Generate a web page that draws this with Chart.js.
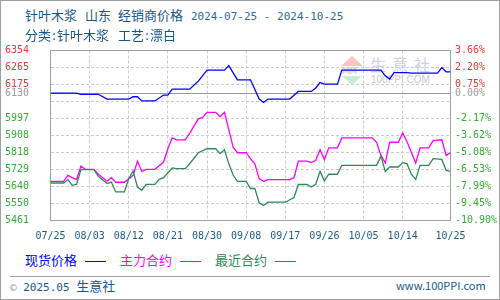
<!DOCTYPE html>
<html><head><meta charset="utf-8">
<script src="https://cdn.jsdelivr.net/npm/chart.js@4.4.0/dist/chart.umd.min.js"></script>
<style>
html,body{margin:0;padding:0;background:#fff;}
#wrap{position:relative;width:500px;height:300px;overflow:hidden;background:#fff;}
#frame{position:absolute;left:0;top:0;width:500px;height:300px;box-sizing:border-box;border:1px solid #a0a0a0;z-index:5;pointer-events:none;}
.cjk{font-family:"Noto Sans CJK SC",sans-serif;font-size:13px;}
.mono{font-family:"DejaVu Sans Mono",monospace;font-size:11px;}
.row{position:absolute;white-space:pre;line-height:13px;font-family:"Noto Sans CJK SC",sans-serif;font-size:13px;z-index:3;}
.ib{display:inline-block;}
.c{text-align:center;}
#chart{position:absolute;left:0;top:40px;z-index:2;}
.wm{position:absolute;z-index:1;white-space:pre;}
.lg{position:absolute;height:0;border-top:1px solid;top:261px;z-index:3;}
</style></head>
<body>
<div id="wrap">
  <!-- watermark -->
  <div class="wm" style="left:341px;top:56px;width:0;height:0;border-left:11px solid transparent;border-right:11px solid transparent;border-bottom:10px solid #f6c4c4;"></div>
  <div class="wm" style="left:342px;top:67px;font:bold 8px 'DejaVu Sans';color:#d6d6d6;letter-spacing:-1px;">MM</div>
  <div class="wm" style="left:342px;top:76px;width:0;height:0;border-left:10px solid transparent;border-right:10px solid transparent;border-top:9px solid #c9ecd2;"></div>
  <div class="wm cjk" style="left:370px;top:55px;font-size:16px;line-height:18px;letter-spacing:6px;color:#c9d4e4;">生意社</div>
  <div class="wm" style="left:371px;top:75px;font:10px 'Liberation Sans';line-height:10px;color:#c8c8c8;">100PPI.COM</div>

  <div class="row" style="left:25px;top:8px;color:#16588c;"><span class="ib" style="width:60px">针叶木浆</span><span class="ib" style="width:33px">山东</span><span class="ib" style="width:73px">经销商价格</span><span class="ib mono" style="color:#2f6a9c">2024-07-25 - 2024-10-25</span></div>
  <div class="row" style="left:25px;top:28px;color:#16588c;"><span class="ib" style="width:26px">分类</span><span class="ib c" style="width:6px">:</span><span class="ib" style="width:61px">针叶木浆</span><span class="ib" style="width:26px">工艺</span><span class="ib c" style="width:6px">:</span><span class="ib">漂白</span></div>

  <canvas id="chart" width="500" height="210"></canvas>

  <div class="row" style="left:25px;top:253px;color:#0000ff;">现货价格</div>
  <div class="lg" style="left:85px;width:21px;border-color:#0000ff;"></div>
  <div class="row" style="left:120px;top:253px;color:#ff00ff;">主力合约</div>
  <div class="lg" style="left:180px;width:21px;border-color:#ff00ff;"></div>
  <div class="row" style="left:215px;top:253px;color:#2e8b57;">最近合约</div>
  <div class="lg" style="left:275px;width:21px;border-color:#2e8b57;"></div>

  <div style="position:absolute;left:10px;top:276px;width:480px;height:1px;background:#a0a0a0;"></div>
  <div class="row" style="left:10px;top:279px;color:#16588c;"><span class="mono" style="color:#8aa4bd">©</span><span class="mono"> 2025.05 </span>生意社</div>
  <div class="row mono" style="left:396px;top:279px;color:#16588c;font-size:11px;">www.100PPI.com</div>

  <div id="frame"></div>
</div>
<script>
// ---- data ----
const xTickLabels = ['07/25','08/03','08/12','08/21','08/30','09/08','09/17','09/26','10/05','10/14','10/25'];
const yTickValues = [6354, 6264.7, 6175.4, 6130, 6086.1, 5996.8, 5907.5, 5818.2, 5728.9, 5639.6, 5550.3, 5461];
const yLeftLabels = ['6354','6265','6175','6130','','5997','5908','5818','5729','5640','5550','5461'];
const yRightLabels = ['3.66%','2.20%','0.75%','0.00%','','-2.17%','-3.62%','-5.08%','-6.53%','-7.99%','-9.45%','-10.90%'];
const BASE = 6130;

const spotDates = ['07-25','07-31','08-01','08-05','08-07','08-12','08-13','08-14','08-15','08-18','08-20','08-21','08-22','08-26','08-28','08-30','09-03','09-04','09-06','09-09','09-11','09-12','09-13','09-18','09-20','09-23','09-24','09-25','09-26','09-29','09-30','10-09','10-10','10-11','10-12','10-15','10-16','10-22','10-23','10-24','10-25'];
const spotValues = [6130,6130,6124,6124,6099,6099,6111,6111,6089,6089,6120,6120,6151,6151,6193,6251,6251,6275,6200,6200,6099,6081,6099,6099,6139,6139,6157,6186,6177,6177,6251,6251,6221,6204,6238,6238,6235,6235,6264,6242,6242];

const mainDates = ['07-25','07-28','07-29','07-30','07-31','08-01','08-02','08-04','08-05','08-07','08-08','08-09','08-11','08-13','08-14','08-15','08-16','08-18','08-20','08-21','08-22','08-23','08-25','08-26','08-28','08-29','08-30','09-01','09-02','09-03','09-04','09-05','09-06','09-08','09-09','09-10','09-11','09-12','09-13','09-18','09-19','09-20','09-22','09-23','09-24','09-25','09-26','09-27','09-29','09-30','10-07','10-08','10-09','10-10','10-11','10-13','10-14','10-15','10-17','10-18','10-20','10-21','10-23','10-24','10-25'];
const mainValues = [5667,5667,5698,5686,5676,5747,5730,5730,5704,5667,5686,5662,5662,5698,5773,5719,5730,5730,5768,5838,5895,5885,5885,5919,5995,6003,6029,6029,6006,6029,5940,5846,5817,5817,5786,5759,5681,5667,5676,5676,5686,5773,5773,5765,5777,5833,5780,5843,5843,5895,5895,5872,5803,5763,5872,5872,5921,5875,5763,5843,5843,5881,5885,5803,5817];

const nearDates = ['07-25','07-28','07-29','07-30','07-31','08-01','08-04','08-05','08-07','08-08','08-09','08-11','08-12','08-13','08-14','08-15','08-16','08-18','08-19','08-20','08-22','08-23','08-25','08-26','08-28','08-30','09-01','09-02','09-03','09-04','09-05','09-06','09-08','09-09','09-10','09-11','09-12','09-13','09-17','09-19','09-20','09-22','09-23','09-24','09-25','09-26','09-27','09-29','09-30','10-08','10-09','10-10','10-11','10-13','10-14','10-15','10-16','10-17','10-18','10-20','10-21','10-23','10-24','10-25'];
const nearValues = [5658,5658,5676,5646,5651,5728,5728,5693,5655,5663,5611,5611,5681,5721,5637,5620,5651,5651,5677,5686,5737,5733,5733,5759,5817,5838,5838,5812,5833,5760,5700,5667,5667,5629,5629,5554,5540,5557,5557,5582,5650,5650,5637,5651,5719,5669,5704,5704,5751,5751,5799,5719,5742,5742,5765,5759,5704,5677,5751,5751,5786,5782,5724,5719];

// ---- helpers ----
const START = Date.UTC(2024, 6, 25);
function dayOf(s) {
  const p = s.split(/[-\/]/).map(Number);
  return Math.round((Date.UTC(2024, p[0] - 1, p[1]) - START) / 86400000);
}
const xTickDays = xTickLabels.map(dayOf);
function pts(dates, vals) { return dates.map((d, i) => ({ x: dayOf(d), y: vals[i] })); }
function tickColor(v) { return Math.abs(v - BASE) < 0.01 ? '#9a9a9a' : (v > BASE ? '#e63a3a' : '#35ad35'); }
const isBase = c => c.tick && Math.abs(c.tick.value - BASE) < 0.01;

const framePlugin = {
  id: 'frame',
  beforeDatasetsDraw(chart) {
    const a = chart.chartArea, ctx = chart.ctx;
    ctx.save();
    ctx.strokeStyle = '#a0a0a0';
    ctx.lineWidth = 1;
    ctx.strokeRect(a.left, a.top, a.right - a.left, a.bottom - a.top);
    ctx.restore();
  }
};

const axisFont = { family: 'DejaVu Sans Mono', size: 10 };

new Chart(document.getElementById('chart'), {
  type: 'line',
  data: {
    datasets: [
      { label: '现货价格', data: pts(spotDates, spotValues), borderColor: '#0000ff', borderWidth: 1.3, pointRadius: 0, tension: 0, order: 0 },
      { label: '最近合约', data: pts(nearDates, nearValues), borderColor: '#2e8b57', borderWidth: 1.3, pointRadius: 0, tension: 0, order: 1 },
      { label: '主力合约', data: pts(mainDates, mainValues), borderColor: '#ff00ff', borderWidth: 1.3, pointRadius: 0, tension: 0, order: 2 }
    ]
  },
  options: {
    responsive: false,
    animation: false,
    devicePixelRatio: 1,
    layout: { padding: { left: 5, right: 0, top: 9.5, bottom: 0 } },
    plugins: { legend: { display: false }, tooltip: { enabled: false } },
    scales: {
      x: {
        type: 'linear', min: 0, max: 92,
        afterBuildTicks: s => { s.ticks = xTickDays.map(v => ({ value: v })); },
        afterFit: s => { s.height = 29.5; },
        ticks: { autoSkip: false, maxRotation: 0, padding: 10, font: axisFont, color: '#1b5e8f',
                 callback: (v, i) => xTickLabels[i] },
        grid: { color: '#cccccc', drawTicks: false, lineWidth: 1 },
        border: { display: false, dash: [3, 2] }
      },
      y: {
        position: 'left', min: 5461, max: 6354,
        afterBuildTicks: s => { s.ticks = yTickValues.map(v => ({ value: v })); },
        afterFit: s => { s.width = 45.5; },
        ticks: { autoSkip: false, crossAlign: 'far', padding: 0, font: axisFont,
                 color: c => tickColor(c.tick.value), callback: (v, i) => yLeftLabels[i] },
        grid: { color: c => isBase(c) ? '#9a9a9a' : '#cccccc', drawTicks: false, lineWidth: 1 },
        border: { display: false, dash: c => isBase(c) ? [] : [3, 2] }
      },
      y2: {
        position: 'right', min: 5461, max: 6354,
        afterBuildTicks: s => { s.ticks = yTickValues.map(v => ({ value: v })); },
        afterFit: s => { s.width = 49.5; },
        ticks: { autoSkip: false, padding: 4.5, font: axisFont,
                 color: c => tickColor(c.tick.value), callback: (v, i) => yRightLabels[i] },
        grid: { display: false, drawTicks: false, drawOnChartArea: false },
        border: { display: false }
      }
    }
  },
  plugins: [framePlugin]
});
</script>
</body></html>
